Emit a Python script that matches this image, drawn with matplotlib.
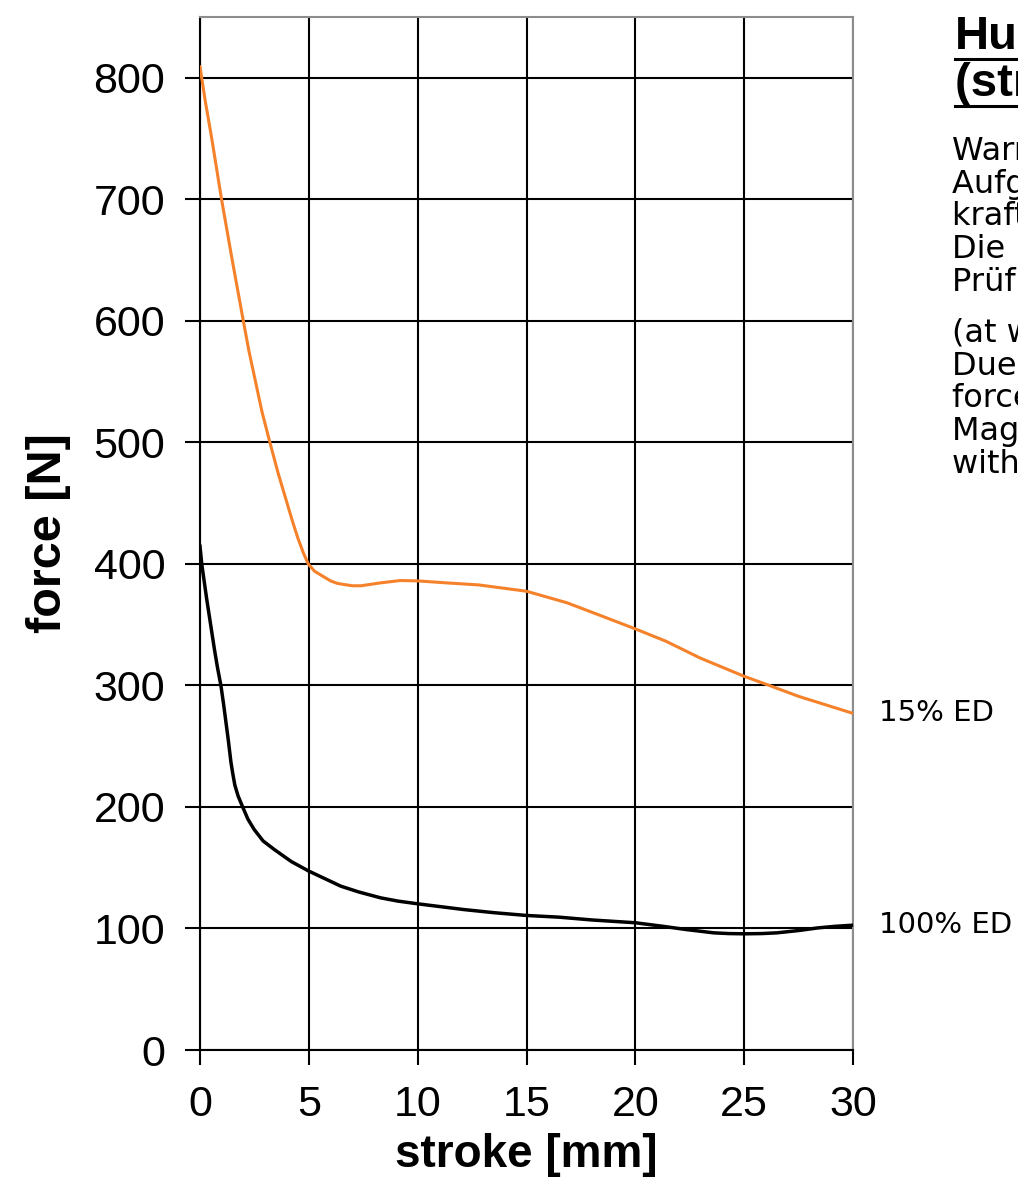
import numpy as np
import matplotlib
matplotlib.use("Agg")
import matplotlib.pyplot as plt
from matplotlib.lines import Line2D

# stroke [mm] / force [N]
stroke_15 = [0, 0.25, 0.54, 0.99, 1.48, 1.99, 2.25, 2.55, 2.85, 3.21, 3.6, 4.0, 4.25, 4.5,
             4.75, 4.97, 5.26, 5.72, 6.0, 6.3, 6.63, 7.0, 7.4, 8.3, 9.2, 10, 11.3, 12.8,
             15, 16.86, 18.4, 20, 21.4, 22.97, 25, 26.15, 27.5, 30]
force_15 = [809, 780, 750, 700, 650, 600, 575, 550, 525, 500, 474, 450, 435, 421,
            409, 400, 394, 389, 386, 384, 383, 382, 382, 384.4, 386.3, 386, 384.4, 382.7,
            377.5, 368, 357.5, 346.5, 336.4, 322.6, 307.5, 300, 291, 277]

stroke_100 = [0, 0.08, 0.3, 0.66, 0.8, 0.96, 1.08, 1.19, 1.3, 1.42, 1.5, 1.6, 1.75, 1.96,
              2.2, 2.49, 2.9, 3.41, 4.2, 5, 6.47, 7.3, 8.3, 9.1, 10, 12.1, 13.5, 15, 16.5,
              18, 20, 21.3, 22.3, 23.6, 24.3, 25, 25.8, 26.5, 27.5, 28.4, 29.2, 30]
force_100 = [414.5, 400, 372, 330, 315, 300, 285, 270, 255, 237, 228, 218, 209, 200,
             190, 181.4, 172, 165, 155, 147.2, 134.8, 130, 125.2, 122.5, 120.3, 115.6,
             113, 110.7, 109.3, 107, 104.7, 101.7, 99.2, 96.4, 95.8, 95.6, 95.8, 96.4,
             98.3, 100.5, 101.8, 102.7]

series_labels = ["15% ED", "100% ED"]
x_ticks = [0, 5, 10, 15, 20, 25, 30]
y_ticks = [0, 100, 200, 300, 400, 500, 600, 700, 800]

title_lines = ["Hubkraft-Kennlinie", "(stroke force curve)"]
text_de = "Warmer Zustand nach\nAufgrund der Erwärmung\nkraft ab.\nDie  Werte gelten für\nPrüfling bei 20 °C"
text_en = "(at warm condition)\nDue to heating the stroke\nforce decreases.\nMagnet values\nwith test piece"

fig = plt.figure(figsize=(10.18, 11.9), dpi=100)
ax = fig.add_axes([200/1018, 1 - 1050/1190, 653/1018, 1033/1190])

ax.plot(stroke_15, force_15, color="#F5822A", lw=2.2, zorder=3)
ax.plot(stroke_100, force_100, color="black", lw=2.5, zorder=3)

ax.set_xlim(0, 30)
ax.set_ylim(0, 850)
ax.set_xticks(x_ticks)
ax.set_yticks(y_ticks)
ax.grid(True, color="black", lw=1.5)
ax.set_axisbelow(True)

tick_font = {"family": "Liberation Sans", "size": 31}
ax.set_xticklabels([str(v) for v in x_ticks], fontdict=tick_font)
ax.set_yticklabels([str(v) for v in y_ticks], fontdict=tick_font)
ax.tick_params(axis="both", direction="out", length=11, width=1.5, color="black", pad=14)

for side in ["top", "right"]:
    ax.spines[side].set_color("#8c8c8c")
    ax.spines[side].set_linewidth(1.5)
for side in ["left", "bottom"]:
    ax.spines[side].set_color("black")
    ax.spines[side].set_linewidth(1.5)

ax.set_xlabel("stroke [mm]", family="Liberation Sans", fontsize=33, fontweight="bold", labelpad=6)
ax.set_ylabel("force [N]", family="Liberation Sans", fontsize=35, fontweight="bold", labelpad=16)

# curve labels at the right end
for xs, ys, lab in [(stroke_15, force_15, series_labels[0]), (stroke_100, force_100, series_labels[1])]:
    ax.annotate(lab, xy=(xs[-1], ys[-1]), xytext=(19, 0), textcoords="offset points",
                va="center", ha="left", fontsize=21, family="DejaVu Sans",
                annotation_clip=False)

# description text on the right, cut off by the figure edge as in the original
fig.text(955/1018, 1 - 15/1190, title_lines[0], family="Liberation Sans", fontsize=34,
         fontweight="bold", va="top", ha="left")
fig.text(955/1018, 1 - 62/1190, title_lines[1], family="Liberation Sans", fontsize=34,
         fontweight="bold", va="top", ha="left")
for yy in [59, 106]:
    fig.add_artist(Line2D([955/1018, 1.0], [1 - yy/1190, 1 - yy/1190], color="black", lw=2.2))

fig.text(952/1018, 1 - 136/1190, text_de, family="DejaVu Sans", fontsize=23,
         va="top", ha="left", linespacing=1.07)
fig.text(952/1018, 1 - 318/1190, text_en, family="DejaVu Sans", fontsize=23,
         va="top", ha="left", linespacing=1.07)

fig.savefig("out.png", dpi=100)
